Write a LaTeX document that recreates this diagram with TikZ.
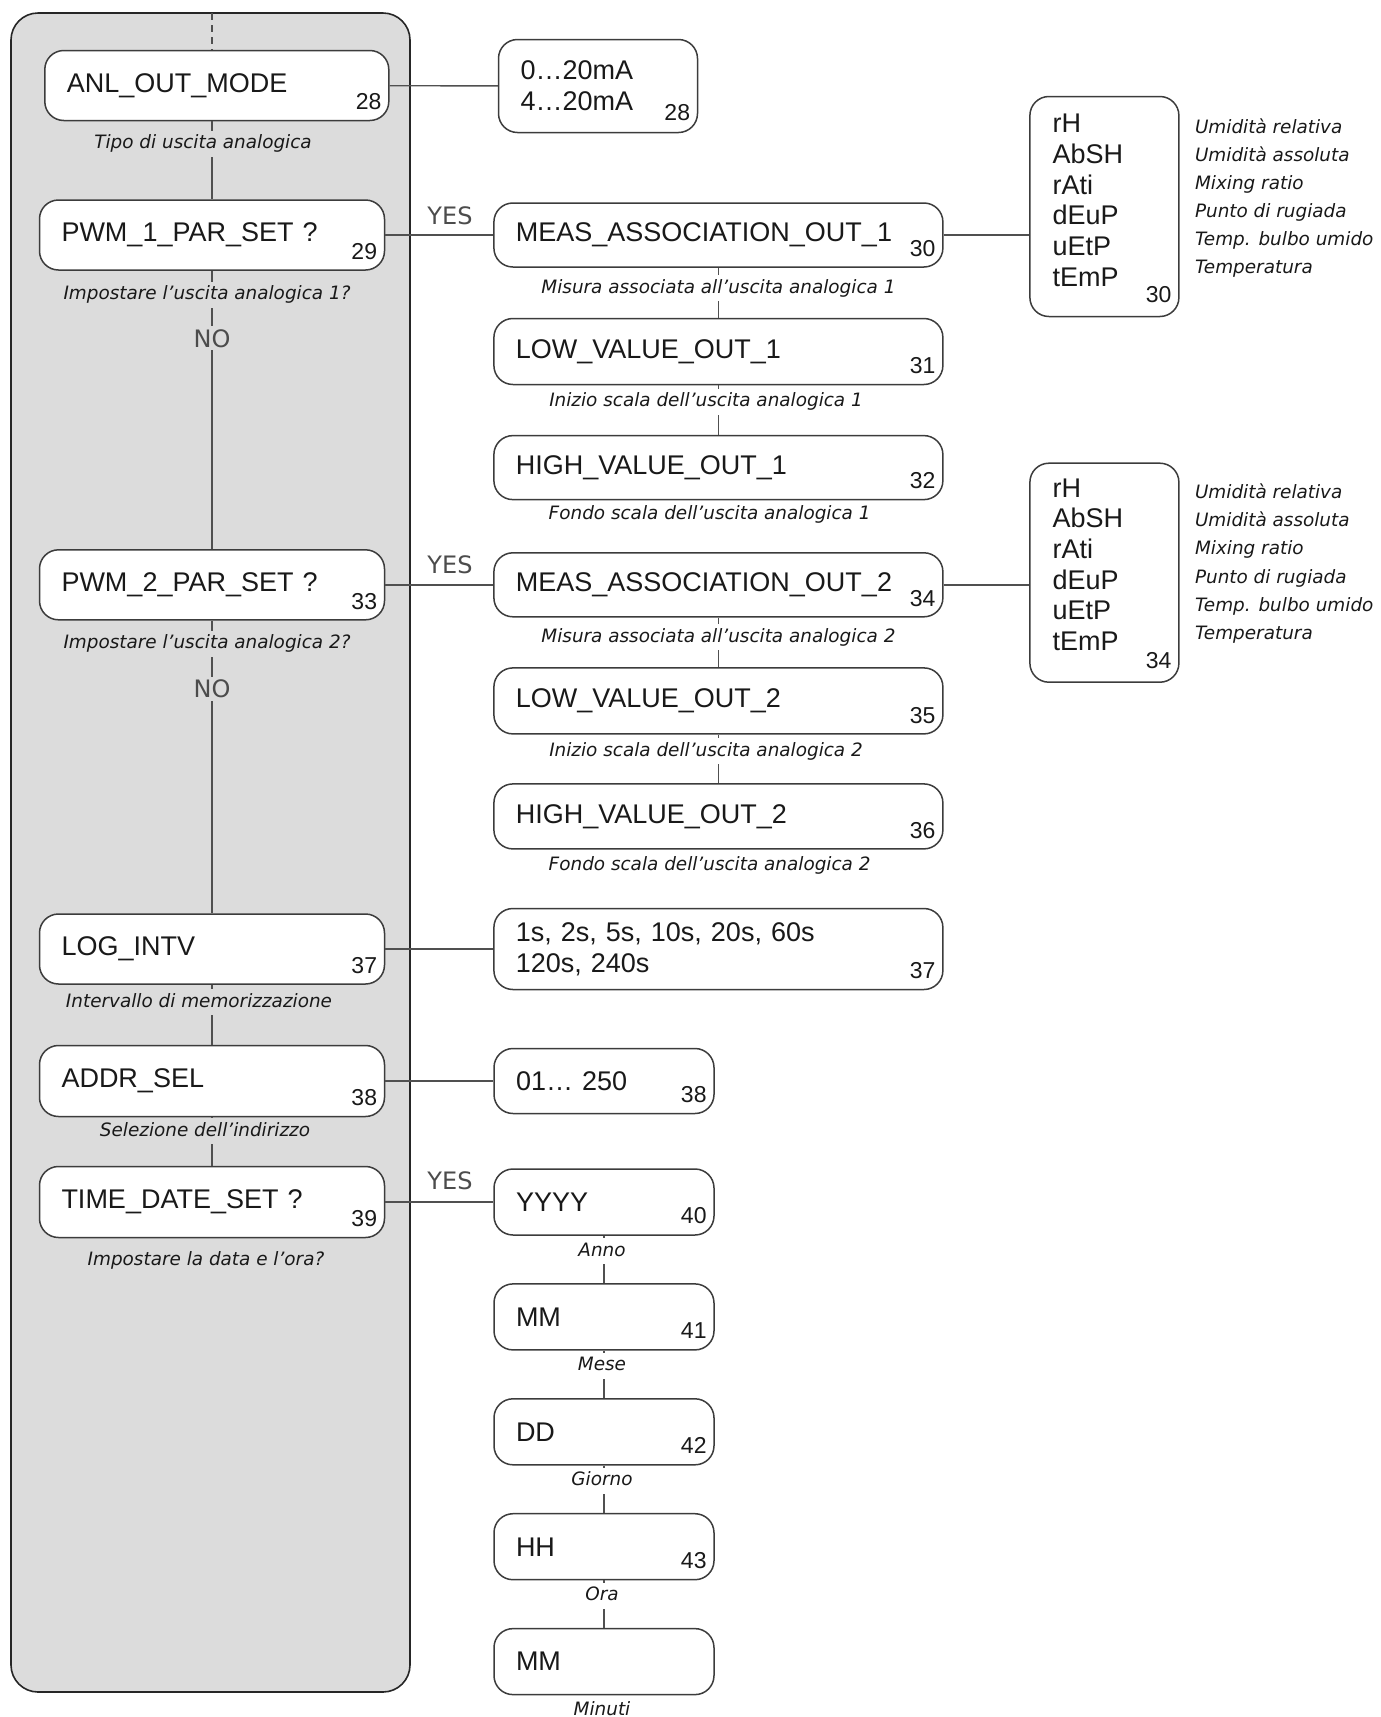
\documentclass[tikz,border=0pt]{standalone}
\usepackage{fontspec}
\setmainfont{Liberation Sans}
\newfontfamily\notefont{DejaVu Sans}
\definecolor{panelgray}{HTML}{DCDCDC}
\definecolor{edge}{HTML}{3C3C3C}
\definecolor{wirec}{HTML}{505050}
\tikzset{
  menu/.style={draw=edge, line width=1.5pt, rounded corners=19pt, fill=white,
    text width=#1, align=left, inner xsep=22pt, inner ysep=0pt, minimum height=70pt,
    font=\fontsize{27}{30.7}\selectfont, text=black!90},
  nr/.style={anchor=south east, inner xsep=8pt, inner ysep=11pt,
    font=\fontsize{23}{23}\selectfont, text=black!90},
  note/.style={font=\notefont\itshape\fontsize{18.4}{20}\selectfont, inner sep=4pt,
    text height=14pt, text depth=4pt, text=black!90},
  yesno/.style={font=\notefont\fontsize{24}{24}\selectfont, text=black!70, inner sep=3pt},
  item/.style={anchor=west, inner sep=0pt, text height=20pt, text depth=0pt,
    font=\fontsize{27}{27}\selectfont, text=black!90},
  wire/.style={draw=wirec, line width=1.4pt}
}
\begin{document}
\begin{tikzpicture}[x=1pt,y=-1pt]
  \useasboundingbox (0,0) rectangle (1381,1717);
  % grey panel
  \draw[draw=black!85, line width=1.6pt, fill=panelgray, rounded corners=27pt] (11,13) rectangle (410,1692);
  \coordinate (top) at (212,13);

  % left column
  \node[menu=300pt, label={[nr]south east:28}] (anl) at (216.8,85.5) {ANL\_OUT\_MODE};
  \node[menu=301pt, label={[nr]south east:29}] (pwm1) at (212,235) {PWM\_1\_PAR\_SET ?};
  \node[menu=301pt, label={[nr]south east:33}] (pwm2) at (212,584.8) {PWM\_2\_PAR\_SET ?};
  \node[menu=301pt, label={[nr]south east:37}] (logi) at (212,949) {LOG\_INTV};
  \node[menu=301pt, minimum height=71pt, label={[nr]south east:38}] (addr) at (212,1081) {ADDR\_SEL};
  \node[menu=301pt, minimum height=71pt, label={[nr]south east:39}] (tds) at (212,1202) {TIME\_DATE\_SET ?};

  % middle column
  \node[menu=155pt, minimum height=93pt, label={[nr, inner ysep=12pt]south east:28}] (range) at (598,86) {0…20mA\\4…20mA};
  \node[menu=405pt, minimum height=64pt, label={[nr]south east:30}] (meas1) at (718.4,235) {MEAS\_ASSOCIATION\_OUT\_1};
  \node[menu=405pt, minimum height=66pt, label={[nr]south east:31}] (low1) at (718.4,351.5) {LOW\_VALUE\_OUT\_1};
  \node[menu=405pt, minimum height=64pt, label={[nr]south east:32}] (high1) at (718.4,467.6) {HIGH\_VALUE\_OUT\_1};
  \node[menu=405pt, minimum height=64pt, label={[nr]south east:34}] (meas2) at (718.4,584.8) {MEAS\_ASSOCIATION\_OUT\_2};
  \node[menu=405pt, minimum height=66pt, label={[nr]south east:35}] (low2) at (718.4,700.9) {LOW\_VALUE\_OUT\_2};
  \node[menu=405pt, minimum height=65pt, label={[nr]south east:36}] (high2) at (718.4,816.4) {HIGH\_VALUE\_OUT\_2};
  \node[menu=405pt, minimum height=81pt, label={[nr]south east:37}] (intv) at (718.4,949) {1s, 2s, 5s, 10s, 20s, 60s\\120s, 240s};
  \node[menu=176pt, minimum height=65pt, label={[nr]south east:38}] (addrval) at (604,1081) {01… 250};
  \foreach \t/\n [count=\i from 0] in {YYYY/40, MM/41, DD/42, HH/43, MM/}
    \node[menu=176pt, minimum height=66pt, label={[nr, inner ysep=12pt]south east:\n}] (d\i) at (604,{1202+114.9*\i}) {\t};

  % measure lists
  \node[menu=105pt, minimum height=220pt, label={[nr, inner ysep=14pt]south east:30}] (rh1) at (1104.4,206.5) {};
  \node[menu=105pt, minimum height=219pt, label={[nr, inner ysep=14pt]south east:34}] (rh2) at (1104.4,572.7) {};
  \foreach \m/\d [count=\i from 0] in {rH/Umidità relativa, AbSH/Umidità assoluta, rAti/Mixing ratio,
      dEuP/Punto di rugiada, uEtP/Temp. bulbo umido, tEmP/Temperatura} {
    \node[item] (rh1-\i) at (1052.4,{122.7+30.67*\i}) {\m};
    \node[note, anchor=west] (rh1d-\i) at (1190.8,{128.1+28.04*\i}) {\d};
    \node[item] (rh2-\i) at (1052.4,{487.3+30.67*\i}) {\m};
    \node[note, anchor=west] (rh2d-\i) at (1190.8,{493.9+28.04*\i}) {\d};
  }

  % connectors
  \draw[wire, dash pattern=on 7pt off 5pt] (top) -- (top |- anl.north);
  \draw[wire] (anl.south -| pwm1) -- (pwm1) -- (pwm2) -- (logi) -- (addr) -- (tds);
  \draw[wire] (anl) -- (range);
  \draw[wire] (pwm1) -- (meas1) -- (low1) -- (high1);
  \draw[wire] (meas1.east) -- (meas1.east -| rh1.west);
  \draw[wire] (pwm2) -- (meas2) -- (low2) -- (high2);
  \draw[wire] (meas2.east) -- (meas2.east -| rh2.west);
  \draw[wire] (logi) -- (intv);
  \draw[wire] (addr) -- (addrval);
  \draw[wire] (tds) -- (d0);
  \foreach \a/\b in {0/1,1/2,2/3,3/4} \draw[wire] (d\a) -- (d\b);

  % captions
  \node[note, fill=panelgray] (anl-c) at (203,143.5) {Tipo di uscita analogica};
  \node[note, fill=panelgray] (pwm1-c) at (207,294.6) {Impostare l’uscita analogica 1?};
  \node[note, fill=panelgray] (pwm2-c) at (207,643.9) {Impostare l’uscita analogica 2?};
  \node[note, fill=panelgray] (logi-c) at (199,1002) {Intervallo di memorizzazione};
  \node[note, fill=panelgray] (addr-c) at (205,1131.2) {Selezione dell’indirizzo};
  \node[note, fill=panelgray] (tds-c) at (206,1260.5) {Impostare la data e l’ora?};
  \node[yesno, fill=panelgray] (no1) at (212,338.4) {NO};
  \node[yesno, fill=panelgray] (no2) at (212,688.8) {NO};
  \node[yesno] (yes1) at (450,215.7) {YES};
  \node[yesno] (yes2) at (450,565) {YES};
  \node[yesno] (yes3) at (450,1180.5) {YES};
  \node[note, fill=white] (meas1-c) at (718.4,288) {Misura associata all’uscita analogica 1};
  \node[note, fill=white] (low1-c) at (706,401.9) {Inizio scala dell’uscita analogica 1};
  \node[note, fill=white] (high1-c) at (709.6,514.7) {Fondo scala dell’uscita analogica 1};
  \node[note, fill=white] (meas2-c) at (718.4,637.3) {Misura associata all’uscita analogica 2};
  \node[note, fill=white] (low2-c) at (706,751.2) {Inizio scala dell’uscita analogica 2};
  \node[note, fill=white] (high2-c) at (709.6,865.1) {Fondo scala dell’uscita analogica 2};
  \foreach \l [count=\i from 0] in {Anno, Mese, Giorno, Ora, Minuti}
    \node[note, fill=white] (d\i-c) at (602,{1251+114.9*\i}) {\l};
\end{tikzpicture}
\end{document}
